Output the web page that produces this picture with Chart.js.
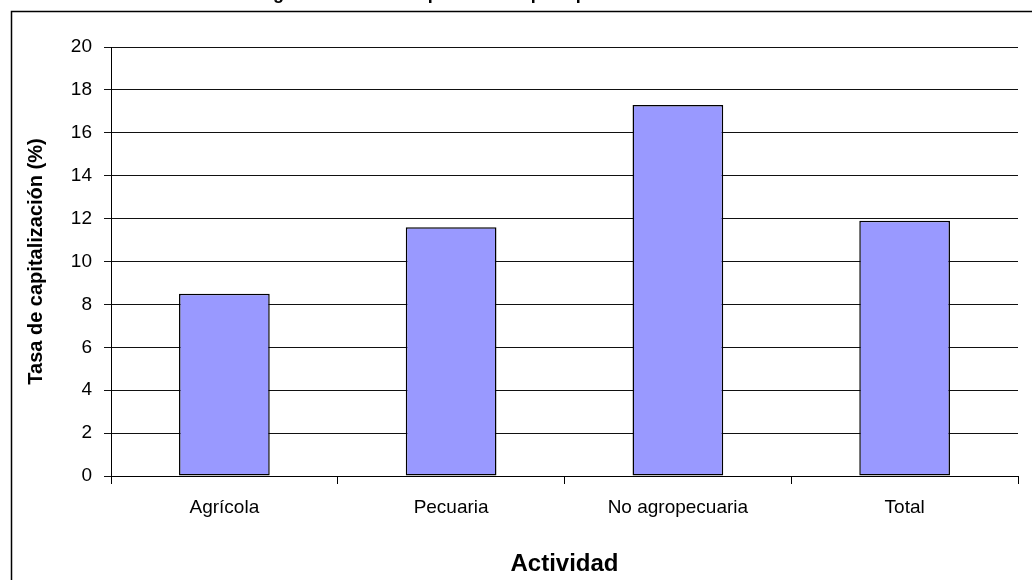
<!DOCTYPE html>
<html>
<head>
<meta charset="utf-8">
<script src="https://cdn.jsdelivr.net/npm/chart.js@4"></script>
<style>
  html, body { margin: 0; padding: 0; background: #fff; }
  #wrap { width: 1032px; height: 580px; position: relative; }
</style>
</head>
<body>
<div id="wrap"><canvas id="c" width="1032" height="580"></canvas></div>
<script>
// Activity categories and capitalization rates (%)
const categories = ['Agrícola', 'Pecuaria', 'No agropecuaria', 'Total'];
const rates = [8.5, 11.6, 17.3, 11.9];
const yTicks = [0, 2, 4, 6, 8, 10, 12, 14, 16, 18, 20];

const chartTitle = 'Figura 1. Tasa de capitalización por tipo de actividad';
const yTitle = 'Tasa de capitalización (%)';
const xTitle = 'Actividad';

const FONT = '"Liberation Sans", Arial, sans-serif';

// Frame around the chart and the heading above the plot
const framePlugin = {
  id: 'frame',
  beforeDraw(chart) {
    const ctx = chart.ctx;
    ctx.save();
    ctx.fillStyle = '#fff';
    ctx.fillRect(0, 0, chart.width, chart.height);
    ctx.strokeStyle = '#000';
    ctx.lineWidth = 1.5;
    ctx.strokeRect(11.5, 11.5, 1200, 1000);
    ctx.font = 'bold 18px ' + FONT;
    ctx.fillStyle = '#000';
    ctx.textAlign = 'left';
    ctx.textBaseline = 'alphabetic';
    ctx.fillText(chartTitle, 257, -1);
    ctx.restore();
  }
};

new Chart(document.getElementById('c'), {
  type: 'bar',
  data: {
    labels: categories,
    datasets: [{
      data: rates,
      backgroundColor: '#9999FF',
      borderColor: '#000',
      borderWidth: 1.5,
      borderSkipped: false,
      barPercentage: 0.4,
      categoryPercentage: 1.0
    }]
  },
  options: {
    responsive: false,
    animation: false,
    devicePixelRatio: 1,
    layout: { padding: { left: 20, top: 47, right: 14, bottom: 1 } },
    plugins: {
      legend: { display: false },
      tooltip: { enabled: false },
      title: { display: false }
    },
    scales: {
      y: {
        min: 0,
        max: 20,
        afterBuildTicks(scale) {
          scale.ticks = yTicks.map(v => ({ value: v }));
        },
        afterFit(scale) { scale.width = 91; },
        grid: {
          color: '#111',
          lineWidth: 1,
          tickLength: 7,
          drawTicks: true
        },
        border: { color: '#000', width: 1 },
        ticks: {
          color: '#000',
          padding: 12,
          font: { family: FONT, size: 19 }
        },
        title: {
          display: true,
          text: yTitle,
          color: '#000',
          padding: { top: 4, bottom: 0 },
          font: { family: FONT, size: 20, weight: 'bold' }
        }
      },
      x: {
        afterFit(scale) { scale.height = 103; },
        grid: {
          offset: true,
          drawOnChartArea: false,
          drawTicks: true,
          tickLength: 8,
          color: '#000'
        },
        border: { color: '#000', width: 1 },
        ticks: {
          color: '#000',
          padding: 12,
          maxRotation: 0,
          font: { family: FONT, size: 19 }
        },
        title: {
          display: true,
          text: xTitle,
          color: '#000',
          padding: { top: 10, bottom: 0 },
          font: { family: FONT, size: 24, weight: 'bold' }
        }
      }
    }
  },
  plugins: [framePlugin]
});
</script>
</body>
</html>
